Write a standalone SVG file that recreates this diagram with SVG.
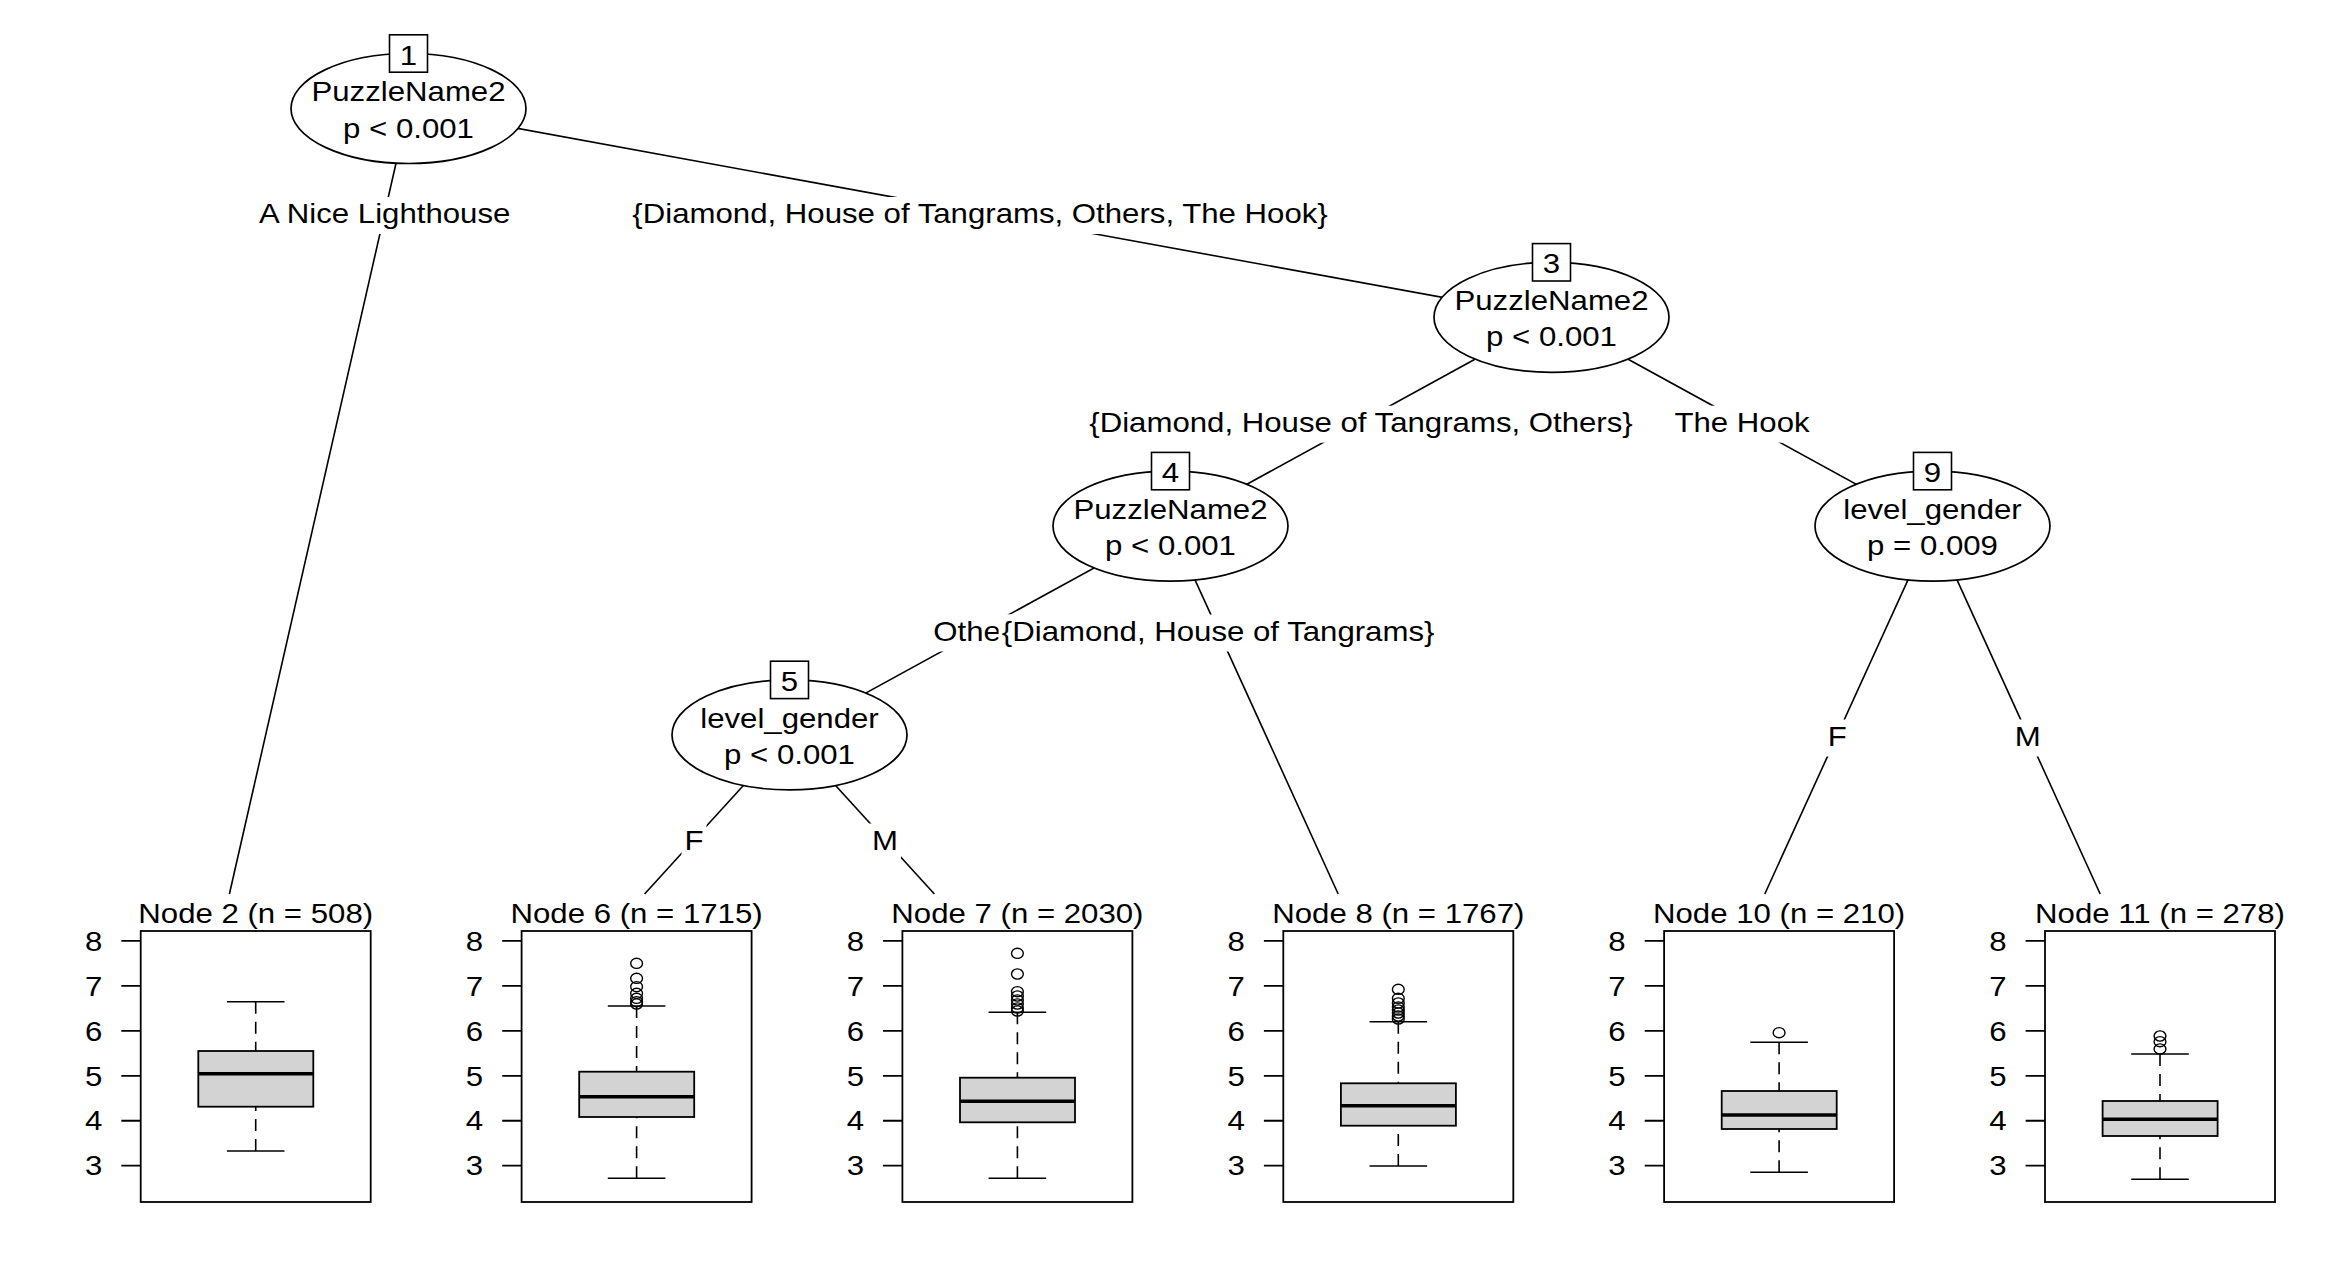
<svg xmlns="http://www.w3.org/2000/svg" width="2334" height="1276" viewBox="0 0 2334 1276">
<style>
.t{font-family:"Liberation Sans",Arial,Helvetica,sans-serif;font-size:27px;fill:#000}
.m{text-anchor:middle}
.e{text-anchor:end}
.edge{stroke:#000;stroke-width:1.6;fill:none}
.lbg{fill:#fff;stroke:none}
.ell{fill:#fff;stroke:#000;stroke-width:1.7}
.nb{fill:#fff;stroke:#000;stroke-width:1.6}
.panel{fill:#fff;stroke:#000;stroke-width:1.8}
.tick{stroke:#000;stroke-width:1.8;fill:none}
.box{fill:#d3d3d3;stroke:#000;stroke-width:1.8}
.med{stroke:#000;stroke-width:3.6}
.wh{stroke:#000;stroke-width:1.6;stroke-dasharray:12 8}
.cap{stroke:#000;stroke-width:1.6}
.out{fill:none;stroke:#000;stroke-width:1.4}
</style>
<rect x="0" y="0" width="2334" height="1276" fill="#fff"/>

<g id="connectors">
  <line class="edge" x1="408.5" y1="108.5" x2="229.4" y2="894"/>
  <line class="edge" x1="408.5" y1="108.5" x2="1551.5" y2="317.3"/>
  <line class="edge" x1="1551.5" y1="317.3" x2="1170.5" y2="526.1"/>
  <line class="edge" x1="1551.5" y1="317.3" x2="1932.5" y2="526.1"/>
  <line class="edge" x1="1170.5" y1="526.1" x2="789.5" y2="734.9"/>
  <line class="edge" x1="1170.5" y1="526.1" x2="1338.2" y2="894"/>
  <line class="edge" x1="789.5" y1="734.9" x2="644.6" y2="894"/>
  <line class="edge" x1="789.5" y1="734.9" x2="934.4" y2="894"/>
  <line class="edge" x1="1932.5" y1="526.1" x2="1764.8" y2="894"/>
  <line class="edge" x1="1932.5" y1="526.1" x2="2100.2" y2="894"/>

  <rect class="lbg" x="255.2" y="197" width="259" height="37"/>
  <text class="t m" transform="matrix(1.155 0 0 1 384.7 223)">A Nice Lighthouse</text>
  <rect class="lbg" x="627" y="197" width="706" height="37"/>
  <text class="t m" transform="matrix(1.155 0 0 1 980 223)">{Diamond, House of Tangrams, Others, The Hook}</text>

  <rect class="lbg" x="1084" y="405.7" width="554" height="37"/>
  <text class="t m" transform="matrix(1.155 0 0 1 1361 431.7)">{Diamond, House of Tangrams, Others}</text>
  <rect class="lbg" x="1671.5" y="405.7" width="141" height="37"/>
  <text class="t m" transform="matrix(1.155 0 0 1 1742 431.7)">The Hook</text>

  <rect class="lbg" x="930" y="614.5" width="100" height="37"/>
  <text class="t m" transform="matrix(1.155 0 0 1 980 640.5)">Others</text>
  <rect class="lbg" x="998.6" y="614.5" width="439" height="37"/>
  <text class="t m" transform="matrix(1.155 0 0 1 1218.1 640.5)">{Diamond, House of Tangrams}</text>

  <rect class="lbg" x="681.5" y="823.5" width="25" height="37"/>
  <text class="t m" transform="matrix(1.155 0 0 1 694 849.5)">F</text>
  <rect class="lbg" x="869" y="823.5" width="32" height="37"/>
  <text class="t m" transform="matrix(1.155 0 0 1 885 849.5)">M</text>

  <rect class="lbg" x="1824.7" y="719.5" width="25" height="37"/>
  <text class="t m" transform="matrix(1.155 0 0 1 1837.2 745.5)">F</text>
  <rect class="lbg" x="2011.8" y="719.5" width="32" height="37"/>
  <text class="t m" transform="matrix(1.155 0 0 1 2027.8 745.5)">M</text>
</g>

<g id="node1">
  <ellipse class="ell" cx="408.5" cy="108.5" rx="117.5" ry="55"/>
  <rect class="nb" x="389.5" y="34.8" width="38" height="37.4"/>
  <text class="t m" transform="matrix(1.155 0 0 1 408.5 64.5)">1</text>
  <text class="t m" transform="matrix(1.155 0 0 1 408.5 101.2)">PuzzleName2</text>
  <text class="t m" transform="matrix(1.155 0 0 1 408.5 137.5)">p &lt; 0.001</text>
</g>
<g id="node3">
  <ellipse class="ell" cx="1551.5" cy="317.3" rx="117.5" ry="55"/>
  <rect class="nb" x="1532.5" y="243.6" width="38" height="37.4"/>
  <text class="t m" transform="matrix(1.155 0 0 1 1551.5 273.3)">3</text>
  <text class="t m" transform="matrix(1.155 0 0 1 1551.5 310)">PuzzleName2</text>
  <text class="t m" transform="matrix(1.155 0 0 1 1551.5 346.3)">p &lt; 0.001</text>
</g>
<g id="node4">
  <ellipse class="ell" cx="1170.5" cy="526.1" rx="117.5" ry="55"/>
  <rect class="nb" x="1151.5" y="452.4" width="38" height="37.4"/>
  <text class="t m" transform="matrix(1.155 0 0 1 1170.5 482.1)">4</text>
  <text class="t m" transform="matrix(1.155 0 0 1 1170.5 518.8)">PuzzleName2</text>
  <text class="t m" transform="matrix(1.155 0 0 1 1170.5 555.1)">p &lt; 0.001</text>
</g>
<g id="node5">
  <ellipse class="ell" cx="789.5" cy="734.9" rx="117.5" ry="55"/>
  <rect class="nb" x="770.5" y="661.2" width="38" height="37.4"/>
  <text class="t m" transform="matrix(1.155 0 0 1 789.5 690.9)">5</text>
  <text class="t m" transform="matrix(1.155 0 0 1 789.5 727.6)">level_gender</text>
  <text class="t m" transform="matrix(1.155 0 0 1 789.5 763.9)">p &lt; 0.001</text>
</g>
<g id="node9">
  <ellipse class="ell" cx="1932.5" cy="526.1" rx="117.5" ry="55"/>
  <rect class="nb" x="1913.5" y="452.4" width="38" height="37.4"/>
  <text class="t m" transform="matrix(1.155 0 0 1 1932.5 482.1)">9</text>
  <text class="t m" transform="matrix(1.155 0 0 1 1932.5 518.8)">level_gender</text>
  <text class="t m" transform="matrix(1.155 0 0 1 1932.5 555.1)">p = 0.009</text>
</g>

<g id="node2" transform="translate(140.7,0)">
  <text class="t m" transform="matrix(1.155 0 0 1 115 923.3)">Node 2 (n = 508)</text>
  <rect class="panel" x="0" y="931" width="230" height="271"/>
  <path class="tick" d="M-19.4 940.95H0M-19.4 985.9H0M-19.4 1030.85H0M-19.4 1075.8H0M-19.4 1120.75H0M-19.4 1165.7H0"/>
  <text class="t e" transform="matrix(1.155 0 0 1 -38.4 950.65)">8</text>
  <text class="t e" transform="matrix(1.155 0 0 1 -38.4 995.6)">7</text>
  <text class="t e" transform="matrix(1.155 0 0 1 -38.4 1040.55)">6</text>
  <text class="t e" transform="matrix(1.155 0 0 1 -38.4 1085.5)">5</text>
  <text class="t e" transform="matrix(1.155 0 0 1 -38.4 1130.45)">4</text>
  <text class="t e" transform="matrix(1.155 0 0 1 -38.4 1175.4)">3</text>
  <line class="wh" x1="115" y1="1001.7" x2="115" y2="1051"/>
  <line class="wh" x1="115" y1="1151" x2="115" y2="1106.7"/>
  <line class="cap" x1="86.2" y1="1001.7" x2="143.8" y2="1001.7"/>
  <line class="cap" x1="86.2" y1="1151" x2="143.8" y2="1151"/>
  <rect class="box" x="57.6" y="1051" width="115" height="55.7"/>
  <line class="med" x1="57.6" y1="1073.7" x2="172.6" y2="1073.7"/>
</g>

<g id="node6" transform="translate(521.6,0)">
  <text class="t m" transform="matrix(1.155 0 0 1 115 923.3)">Node 6 (n = 1715)</text>
  <rect class="panel" x="0" y="931" width="230" height="271"/>
  <path class="tick" d="M-19.4 940.95H0M-19.4 985.9H0M-19.4 1030.85H0M-19.4 1075.8H0M-19.4 1120.75H0M-19.4 1165.7H0"/>
  <text class="t e" transform="matrix(1.155 0 0 1 -38.4 950.65)">8</text>
  <text class="t e" transform="matrix(1.155 0 0 1 -38.4 995.6)">7</text>
  <text class="t e" transform="matrix(1.155 0 0 1 -38.4 1040.55)">6</text>
  <text class="t e" transform="matrix(1.155 0 0 1 -38.4 1085.5)">5</text>
  <text class="t e" transform="matrix(1.155 0 0 1 -38.4 1130.45)">4</text>
  <text class="t e" transform="matrix(1.155 0 0 1 -38.4 1175.4)">3</text>
  <line class="wh" x1="115" y1="1006" x2="115" y2="1071.7"/>
  <line class="wh" x1="115" y1="1178.3" x2="115" y2="1117"/>
  <line class="cap" x1="86.2" y1="1006" x2="143.8" y2="1006"/>
  <line class="cap" x1="86.2" y1="1178.3" x2="143.8" y2="1178.3"/>
  <rect class="box" x="57.6" y="1071.7" width="115" height="45.3"/>
  <line class="med" x1="57.6" y1="1096.7" x2="172.6" y2="1096.7"/>
  <ellipse class="out" cx="115" cy="963.3" rx="5.9" ry="5.1"/>
  <ellipse class="out" cx="115" cy="978.3" rx="5.9" ry="5.1"/>
  <ellipse class="out" cx="115" cy="986.7" rx="5.9" ry="5.1"/>
  <ellipse class="out" cx="115" cy="993.3" rx="5.9" ry="5.1"/>
  <ellipse class="out" cx="115" cy="998.3" rx="5.9" ry="5.1"/>
  <ellipse class="out" cx="115" cy="1001.7" rx="5.9" ry="5.1"/>
  <ellipse class="out" cx="115" cy="1004" rx="5.9" ry="5.1"/>
</g>

<g id="node7" transform="translate(902.4,0)">
  <text class="t m" transform="matrix(1.155 0 0 1 115 923.3)">Node 7 (n = 2030)</text>
  <rect class="panel" x="0" y="931" width="230" height="271"/>
  <path class="tick" d="M-19.4 940.95H0M-19.4 985.9H0M-19.4 1030.85H0M-19.4 1075.8H0M-19.4 1120.75H0M-19.4 1165.7H0"/>
  <text class="t e" transform="matrix(1.155 0 0 1 -38.4 950.65)">8</text>
  <text class="t e" transform="matrix(1.155 0 0 1 -38.4 995.6)">7</text>
  <text class="t e" transform="matrix(1.155 0 0 1 -38.4 1040.55)">6</text>
  <text class="t e" transform="matrix(1.155 0 0 1 -38.4 1085.5)">5</text>
  <text class="t e" transform="matrix(1.155 0 0 1 -38.4 1130.45)">4</text>
  <text class="t e" transform="matrix(1.155 0 0 1 -38.4 1175.4)">3</text>
  <line class="wh" x1="115" y1="1012.3" x2="115" y2="1077.7"/>
  <line class="wh" x1="115" y1="1178.3" x2="115" y2="1122.3"/>
  <line class="cap" x1="86.2" y1="1012.3" x2="143.8" y2="1012.3"/>
  <line class="cap" x1="86.2" y1="1178.3" x2="143.8" y2="1178.3"/>
  <rect class="box" x="57.6" y="1077.7" width="115" height="44.6"/>
  <line class="med" x1="57.6" y1="1101.3" x2="172.6" y2="1101.3"/>
  <ellipse class="out" cx="115" cy="953.3" rx="5.9" ry="5.1"/>
  <ellipse class="out" cx="115" cy="974" rx="5.9" ry="5.1"/>
  <ellipse class="out" cx="115" cy="991.7" rx="5.9" ry="5.1"/>
  <ellipse class="out" cx="115" cy="996" rx="5.9" ry="5.1"/>
  <ellipse class="out" cx="115" cy="1000" rx="5.9" ry="5.1"/>
  <ellipse class="out" cx="115" cy="1004" rx="5.9" ry="5.1"/>
  <ellipse class="out" cx="115" cy="1008" rx="5.9" ry="5.1"/>
  <ellipse class="out" cx="115" cy="1011" rx="5.9" ry="5.1"/>
</g>

<g id="node8" transform="translate(1283.3,0)">
  <text class="t m" transform="matrix(1.155 0 0 1 115 923.3)">Node 8 (n = 1767)</text>
  <rect class="panel" x="0" y="931" width="230" height="271"/>
  <path class="tick" d="M-19.4 940.95H0M-19.4 985.9H0M-19.4 1030.85H0M-19.4 1075.8H0M-19.4 1120.75H0M-19.4 1165.7H0"/>
  <text class="t e" transform="matrix(1.155 0 0 1 -38.4 950.65)">8</text>
  <text class="t e" transform="matrix(1.155 0 0 1 -38.4 995.6)">7</text>
  <text class="t e" transform="matrix(1.155 0 0 1 -38.4 1040.55)">6</text>
  <text class="t e" transform="matrix(1.155 0 0 1 -38.4 1085.5)">5</text>
  <text class="t e" transform="matrix(1.155 0 0 1 -38.4 1130.45)">4</text>
  <text class="t e" transform="matrix(1.155 0 0 1 -38.4 1175.4)">3</text>
  <line class="wh" x1="115" y1="1021.7" x2="115" y2="1083.3"/>
  <line class="wh" x1="115" y1="1166" x2="115" y2="1125.7"/>
  <line class="cap" x1="86.2" y1="1021.7" x2="143.8" y2="1021.7"/>
  <line class="cap" x1="86.2" y1="1166" x2="143.8" y2="1166"/>
  <rect class="box" x="57.6" y="1083.3" width="115" height="42.4"/>
  <line class="med" x1="57.6" y1="1105.7" x2="172.6" y2="1105.7"/>
  <ellipse class="out" cx="115" cy="989.3" rx="5.9" ry="5.1"/>
  <ellipse class="out" cx="115" cy="998.3" rx="5.9" ry="5.1"/>
  <ellipse class="out" cx="115" cy="1003" rx="5.9" ry="5.1"/>
  <ellipse class="out" cx="115" cy="1007" rx="5.9" ry="5.1"/>
  <ellipse class="out" cx="115" cy="1010" rx="5.9" ry="5.1"/>
  <ellipse class="out" cx="115" cy="1013" rx="5.9" ry="5.1"/>
  <ellipse class="out" cx="115" cy="1016" rx="5.9" ry="5.1"/>
  <ellipse class="out" cx="115" cy="1019" rx="5.9" ry="5.1"/>
</g>

<g id="node10" transform="translate(1664.1,0)">
  <text class="t m" transform="matrix(1.155 0 0 1 115 923.3)">Node 10 (n = 210)</text>
  <rect class="panel" x="0" y="931" width="230" height="271"/>
  <path class="tick" d="M-19.4 940.95H0M-19.4 985.9H0M-19.4 1030.85H0M-19.4 1075.8H0M-19.4 1120.75H0M-19.4 1165.7H0"/>
  <text class="t e" transform="matrix(1.155 0 0 1 -38.4 950.65)">8</text>
  <text class="t e" transform="matrix(1.155 0 0 1 -38.4 995.6)">7</text>
  <text class="t e" transform="matrix(1.155 0 0 1 -38.4 1040.55)">6</text>
  <text class="t e" transform="matrix(1.155 0 0 1 -38.4 1085.5)">5</text>
  <text class="t e" transform="matrix(1.155 0 0 1 -38.4 1130.45)">4</text>
  <text class="t e" transform="matrix(1.155 0 0 1 -38.4 1175.4)">3</text>
  <line class="wh" x1="115" y1="1042.3" x2="115" y2="1091"/>
  <line class="wh" x1="115" y1="1172.3" x2="115" y2="1129"/>
  <line class="cap" x1="86.2" y1="1042.3" x2="143.8" y2="1042.3"/>
  <line class="cap" x1="86.2" y1="1172.3" x2="143.8" y2="1172.3"/>
  <rect class="box" x="57.6" y="1091" width="115" height="38"/>
  <line class="med" x1="57.6" y1="1115" x2="172.6" y2="1115"/>
  <ellipse class="out" cx="115" cy="1032.7" rx="5.9" ry="5.1"/>
</g>

<g id="node11" transform="translate(2045,0)">
  <text class="t m" transform="matrix(1.155 0 0 1 115 923.3)">Node 11 (n = 278)</text>
  <rect class="panel" x="0" y="931" width="230" height="271"/>
  <path class="tick" d="M-19.4 940.95H0M-19.4 985.9H0M-19.4 1030.85H0M-19.4 1075.8H0M-19.4 1120.75H0M-19.4 1165.7H0"/>
  <text class="t e" transform="matrix(1.155 0 0 1 -38.4 950.65)">8</text>
  <text class="t e" transform="matrix(1.155 0 0 1 -38.4 995.6)">7</text>
  <text class="t e" transform="matrix(1.155 0 0 1 -38.4 1040.55)">6</text>
  <text class="t e" transform="matrix(1.155 0 0 1 -38.4 1085.5)">5</text>
  <text class="t e" transform="matrix(1.155 0 0 1 -38.4 1130.45)">4</text>
  <text class="t e" transform="matrix(1.155 0 0 1 -38.4 1175.4)">3</text>
  <line class="wh" x1="115" y1="1054" x2="115" y2="1101"/>
  <line class="wh" x1="115" y1="1179.3" x2="115" y2="1136"/>
  <line class="cap" x1="86.2" y1="1054" x2="143.8" y2="1054"/>
  <line class="cap" x1="86.2" y1="1179.3" x2="143.8" y2="1179.3"/>
  <rect class="box" x="57.6" y="1101" width="115" height="35"/>
  <line class="med" x1="57.6" y1="1119.3" x2="172.6" y2="1119.3"/>
  <ellipse class="out" cx="115" cy="1036" rx="5.9" ry="5.1"/>
  <ellipse class="out" cx="115" cy="1041.7" rx="5.9" ry="5.1"/>
  <ellipse class="out" cx="115" cy="1049" rx="5.9" ry="5.1"/>
</g>
</svg>
